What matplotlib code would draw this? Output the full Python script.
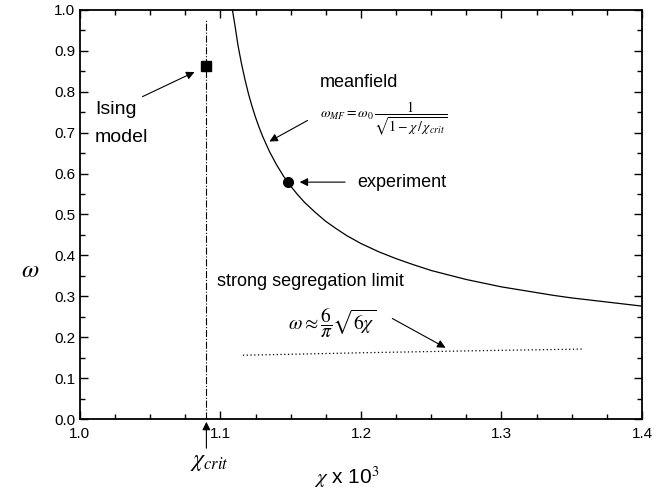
import matplotlib as mpl
import matplotlib.pyplot as plt

mpl.rcParams["font.family"] = ["Liberation Sans", "DejaVu Sans"]
mpl.rcParams["mathtext.fontset"] = "stix"

# meanfield curve
chi_mf = [1.1085, 1.11, 1.1125, 1.115, 1.1175, 1.12, 1.1225, 1.125, 1.1275,
          1.13, 1.135, 1.14, 1.145, 1.15, 1.155, 1.16, 1.1675, 1.175, 1.1825,
          1.19, 1.2, 1.2125, 1.225, 1.2375, 1.25, 1.2625, 1.275, 1.2875,
          1.3, 1.3125, 1.325, 1.3375, 1.35, 1.3625, 1.375, 1.3875, 1.4]
omega_mf = [1.0, 0.969, 0.913, 0.868, 0.829, 0.794, 0.764, 0.737, 0.713,
            0.691, 0.653, 0.621, 0.593, 0.569, 0.548, 0.529, 0.505, 0.483, 0.465,
            0.448, 0.429, 0.409, 0.392, 0.377, 0.363, 0.352, 0.341, 0.332,
            0.323, 0.316, 0.309, 0.302, 0.296, 0.291, 0.286, 0.281, 0.276]

# strong segregation limit (dotted)
chi_ssl = [1.116, 1.16, 1.2, 1.25, 1.3, 1.358]
omega_ssl = [0.156, 0.159, 0.162, 0.165, 0.168, 0.171]

# single points
chi_crit = 1.09
ising = (1.09, 0.863)
experiment = (1.148, 0.579)

fig = plt.figure(figsize=(6.66, 4.93), dpi=100)
ax = fig.add_axes([0.120, 0.150, 0.844, 0.830])

ax.plot(chi_mf, omega_mf, color="black", lw=0.9)
ax.plot(chi_ssl, omega_ssl, color="black", lw=0.9, ls=(0, (1, 2)))
ax.plot([chi_crit, chi_crit], [0, 0.975], color="black", lw=0.8, ls="-.")
ax.plot(*ising, marker="s", color="black", ms=7)
ax.plot(*experiment, marker="o", color="black", ms=7)

arrow = dict(arrowstyle="-|>", color="black", lw=0.8, mutation_scale=12)

ax.text(1.0107, 0.757, "Ising", fontsize=14, va="center")
ax.text(1.0107, 0.687, "model", fontsize=14, va="center")
ax.annotate("", xy=(1.0833, 0.851), xytext=(1.0427, 0.785), arrowprops=arrow)

ax.text(1.1705, 0.822, "meanfield", fontsize=13, va="center")
ax.text(1.1705, 0.735,
        r"$\omega_{MF}=\omega_0\,\dfrac{1}{\sqrt{1-\chi\,/\,\chi_{crit}}}$",
        fontsize=10, va="center")
ax.annotate("", xy=(1.1331, 0.675), xytext=(1.1637, 0.733), arrowprops=arrow)

ax.text(1.197, 0.579, "experiment", fontsize=13, va="center")
ax.annotate("", xy=(1.1544, 0.579), xytext=(1.1907, 0.579), arrowprops=arrow)

ax.text(1.0975, 0.335, "strong segregation limit", fontsize=13, va="center")
ax.text(1.148, 0.235, r"$\omega\approx\dfrac{6}{\pi}\sqrt{6\chi}$",
        fontsize=14, va="center")
ax.annotate("", xy=(1.2619, 0.171), xytext=(1.2206, 0.249), arrowprops=arrow)

ax.annotate("", xy=(chi_crit, 0.0), xytext=(chi_crit, -0.078),
            arrowprops=arrow, annotation_clip=False)
ax.text(chi_crit + 0.002, -0.105, r"$\chi_{crit}$", fontsize=17,
        ha="center", va="center")

ax.set_xlim(1.0, 1.4)
ax.set_ylim(0.0, 1.0)
ax.set_xticks([1.0, 1.1, 1.2, 1.3, 1.4])
ax.set_xticklabels(["1.0", "1.1", "1.2", "1.3", "1.4"])
ax.set_yticks([i / 10 for i in range(11)])
ax.set_yticklabels([f"{i / 10:.1f}" for i in range(11)])
ax.xaxis.set_minor_locator(mpl.ticker.MultipleLocator(0.025))
ax.yaxis.set_minor_locator(mpl.ticker.MultipleLocator(0.05))
ax.tick_params(which="both", direction="in", top=True, right=True,
               labelsize=11, width=1.0)
ax.tick_params(which="major", length=6)
ax.tick_params(which="minor", length=3.5)
ax.tick_params(axis="x", pad=6)
for s in ax.spines.values():
    s.set_linewidth(1.3)

fig.text(0.521, 0.032, r"$\chi$ x 10$^3$", fontsize=15, ha="center", va="center")
fig.text(0.045, 0.453, r"$\omega$", fontsize=18, ha="center", va="center")

fig.savefig("out.png", dpi=100)
